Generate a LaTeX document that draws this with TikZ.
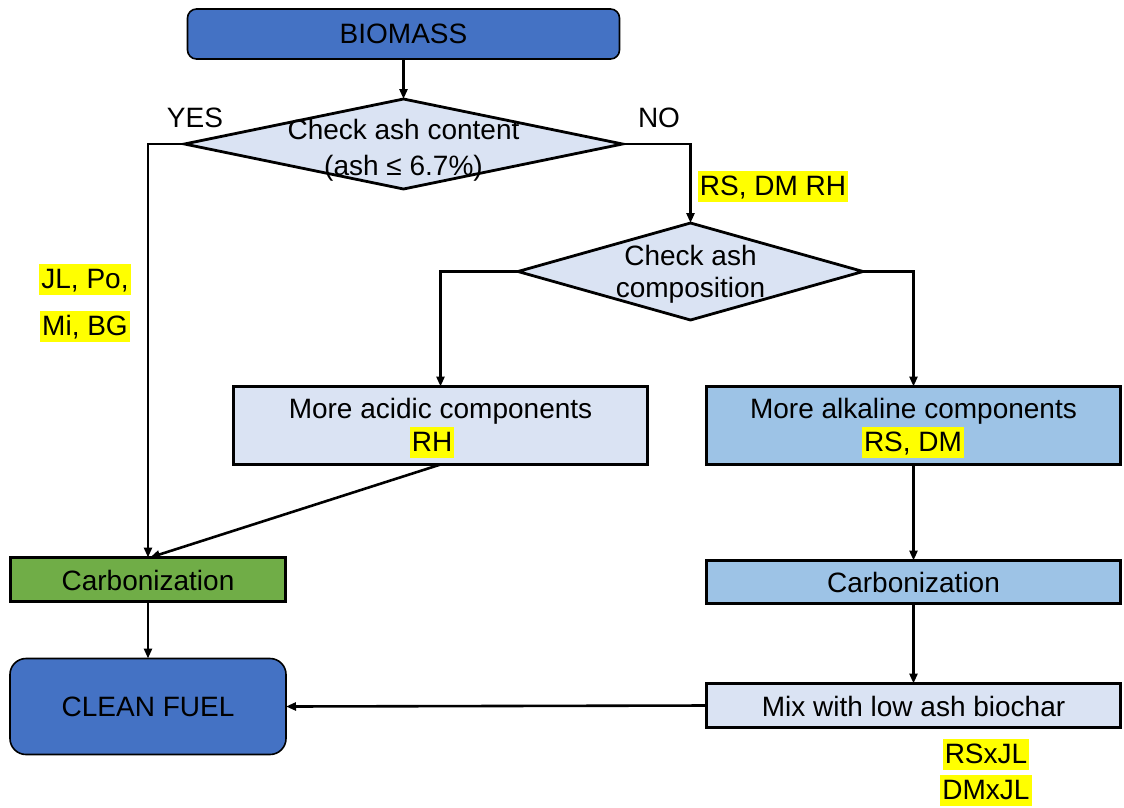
\documentclass[tikz,border=0pt]{standalone}
\usepackage{fontspec}
\setmainfont{Liberation Sans}
\usetikzlibrary{shapes.geometric,arrows.meta,calc}
\definecolor{dblue}{HTML}{4472C4}
\definecolor{lblue}{HTML}{DAE3F3}
\definecolor{mblue}{HTML}{9DC3E6}
\definecolor{lgreen}{HTML}{70AD47}
\definecolor{hlyellow}{HTML}{FFFF00}
\begin{document}
\begin{tikzpicture}[x=1pt,y=-1pt,
  font=\fontsize{28}{33}\selectfont,
  box/.style={draw=black, line width=3.3pt, inner sep=0pt, outer sep=0pt},
  term/.style={draw=black, line width=1.6pt, fill=dblue, inner sep=0pt, outer sep=0pt},
  dia/.style={diamond, draw=black, line width=2.8pt, fill=lblue, inner sep=0pt, outer sep=0pt},
  conn/.style={line width=2.6pt, -{Triangle[length=10pt,width=8pt]}},
  txt/.style={anchor=base, inner sep=0pt},
  hl/.style={anchor=base, fill=hlyellow, inner xsep=2pt, inner ysep=0pt, text height=24pt, text depth=7pt}]
\useasboundingbox (0,0) rectangle (1124,807);
% shapes
\node[term, rounded corners=9pt, minimum width=432pt, minimum height=50pt] (bio) at (403.5,34) {};
\node[dia, minimum width=438pt, minimum height=90pt] (d1) at (403.5,144) {};
\node[dia, minimum width=345pt, minimum height=97pt] (d2) at (690.5,271.5) {};
\node[box, fill=lblue, minimum width=414pt, minimum height=78pt] (acid) at (440.5,425.5) {};
\node[box, fill=mblue, minimum width=414pt, minimum height=78pt] (alk) at (913.5,425.5) {};
\node[box, fill=lgreen, minimum width=275pt, minimum height=44pt] (carbG) at (148,579.5) {};
\node[box, fill=mblue, minimum width=414pt, minimum height=43pt] (carbB) at (913.5,582) {};
\node[box, fill=lblue, minimum width=414pt, minimum height=44pt] (mix) at (913.5,705.5) {};
\node[term, rounded corners=16pt, minimum width=276pt, minimum height=96pt] (clean) at (148,706.5) {};
% texts
\node[txt] (tbio) at (403.5,43) {BIOMASS};
\node[txt] (td1a) at (403.5,139) {Check ash content};
\node[txt] (td1b) at (403.5,175) {(ash ≤ 6.7\%)};
\node[txt] (tyes) at (195,127) {YES};
\node[txt] (tno) at (659,127) {NO};
\node[hl] (hno) at (773,195) {RS, DM RH};
\node[txt] (td2a) at (690.5,265) {Check ash};
\node[txt] (td2b) at (690.5,297) {composition};
\node[hl] (hyes1) at (85,288) {JL, Po,};
\node[hl] (hyes2) at (85,335) {Mi, BG};
\node[txt] (tacid) at (440.5,418) {More acidic components};
\node[hl] (hacid) at (432,451) {RH};
\node[txt] (talk) at (913.5,418) {More alkaline components};
\node[hl] (halk) at (913,451) {RS, DM};
\node[txt] (tcarbG) at (148,590) {Carbonization};
\node[txt] (tcarbB) at (913.5,592) {Carbonization};
\node[txt] (tmix) at (913.5,716) {Mix with low ash biochar};
\node[txt] (tclean) at (148,716) {CLEAN FUEL};
\node[hl] (hmix1) at (986,763) {RSxJL};
\node[hl] (hmix2) at (986,799) {DMxJL};
% connectors
\draw[conn] (bio.south) -- (d1.north);
\draw[conn] (d1.west) -| (carbG.north);
\draw[conn] (d1.east) -| (d2.north);
\draw[conn] (d2.west) -| (acid.north);
\draw[conn] (d2.east) -| (alk.north);
\draw[conn] (acid.south) -- ([xshift=2pt]carbG.north);
\draw[conn] (alk.south) -- (carbB.north);
\draw[conn] (carbB.south) -- (mix.north);
\draw[conn] (carbG.south) -- (clean.north);
\draw[conn] (mix.west) -- (clean.east);
\end{tikzpicture}
\end{document}
